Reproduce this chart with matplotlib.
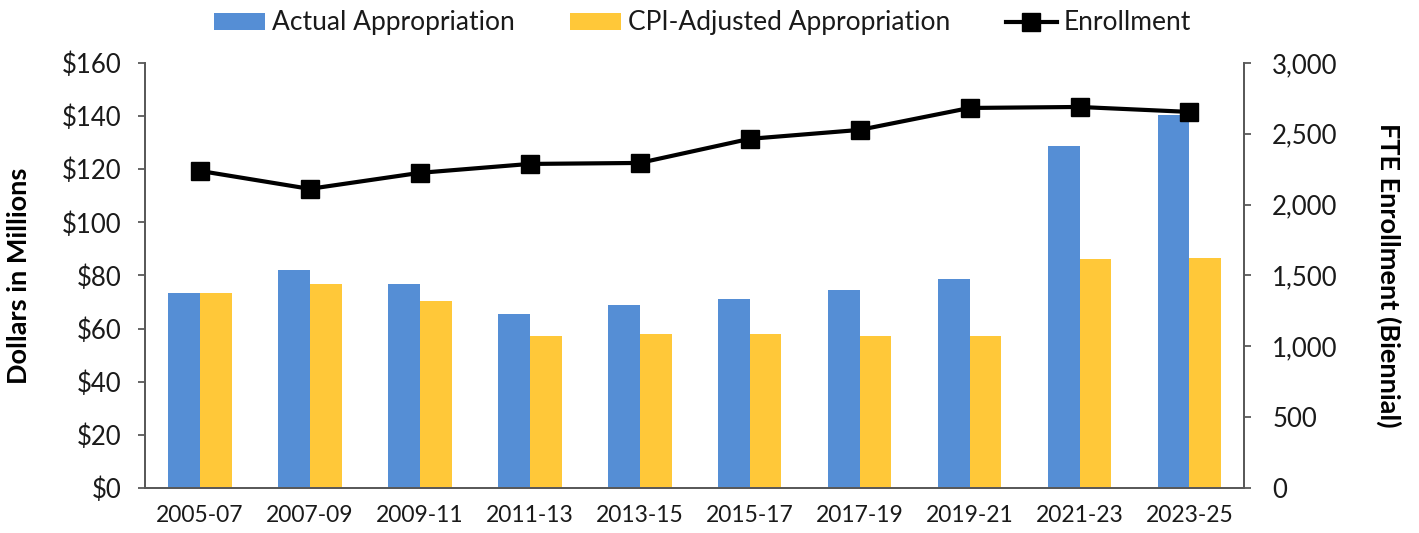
import numpy as np
import matplotlib.pyplot as plt

periods = ["2005-07", "2007-09", "2009-11", "2011-13", "2013-15",
           "2015-17", "2017-19", "2019-21", "2021-23", "2023-25"]
actual = [73.4, 82.1, 76.8, 65.5, 68.9, 71.2, 74.5, 78.7, 128.8, 140.4]
cpi_adjusted = [73.4, 76.8, 70.4, 57.2, 58.0, 57.8, 57.2, 57.3, 86.2, 86.6]
enrollment = [2238, 2111, 2224, 2287, 2294, 2464, 2527, 2682, 2689, 2654]

plt.rcParams['font.family'] = ['Lato', 'DejaVu Sans']
plt.rcParams['text.color'] = '#1a1a1a'

fig = plt.figure(figsize=(14.19, 5.33), dpi=100)
ax = fig.add_axes([0.102, 0.0844, 0.775, 0.7976])
ax2 = ax.twinx()

x = np.arange(len(periods))
w = 0.29
ax.bar(x - w / 2, actual, w, color='#558ED5', label='Actual Appropriation', zorder=2)
ax.bar(x + w / 2, cpi_adjusted, w, color='#FFC839', label='CPI-Adjusted Appropriation', zorder=2)
ax2.plot(x, enrollment, color='black', lw=3, marker='s', ms=13, label='Enrollment')

ax.set_xlim(-0.5, len(periods) - 0.5)
ax.set_ylim(0, 160)
ax.set_yticks(np.arange(0, 161, 20))
ax.set_yticklabels([f"${v}" for v in range(0, 161, 20)])
ax2.set_ylim(0, 3000)
ax2.set_yticks(np.arange(0, 3001, 500))
ax2.set_yticklabels([f"{v:,}" for v in range(0, 3001, 500)])
ax.set_xticks(x)
ax.set_xticklabels(periods)

for a in (ax, ax2):
    a.spines['top'].set_visible(False)
    for s in ('left', 'right', 'bottom'):
        a.spines[s].set_color('#595959')
        a.spines[s].set_linewidth(1.3)
    a.tick_params(axis='y', labelsize=18.5, length=5, width=1.3,
                  color='#595959', labelcolor='#1a1a1a')
ax.tick_params(axis='x', labelsize=16.5, length=0, pad=12, labelcolor='#1a1a1a')
ax.tick_params(axis='y', pad=12)
ax2.tick_params(axis='y', pad=15)

ax.set_ylabel('Dollars in Millions', fontsize=19.5, fontweight='bold', labelpad=22)
ax2.set_ylabel('FTE Enrollment (Biennial)', fontsize=19.5, fontweight='bold',
               rotation=270, labelpad=46)

h1, l1 = ax.get_legend_handles_labels()
h2, l2 = ax2.get_legend_handles_labels()
fig.legend(h1 + h2, l1 + l2, loc='upper center', bbox_to_anchor=(0.495, 1.025),
           ncol=3, frameon=False, fontsize=19, handlelength=1.95,
           handleheight=0.6, columnspacing=2.1, handletextpad=0.25)

fig.savefig('out.png', dpi=100)
